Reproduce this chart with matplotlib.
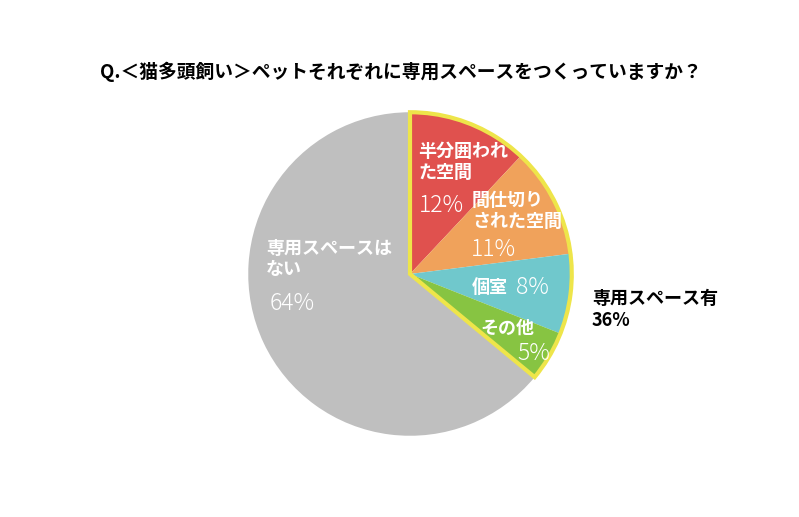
import matplotlib.pyplot as plt
from matplotlib.patches import Wedge

plt.rcParams['font.family'] = ['Noto Sans CJK JP', 'DejaVu Sans']

# data
title = 'Q.＜猫多頭飼い＞ペットそれぞれに専用スペースをつくっていますか？'
labels = ['半分囲われ\nた空間', '間仕切り\nされた空間', '個室', 'その他', '専用スペースは\nない']
shares = [12, 11, 8, 5, 64]
colors = ['#e0514e', '#f0a25b', '#70c8cc', '#87c442', '#bfbfbf']
with_space_label = '専用スペース有'
with_space_share = 36

W, H = 799, 517
fig = plt.figure(figsize=(W / 100, H / 100), dpi=100)

# pie centre (410, 274) px, radius 165 px
cx, cy, r = 410, 274, 165
ax = fig.add_axes([(cx - r) / W, (H - cy - r) / H, 2 * r / W, 2 * r / H])
ax.pie(shares, colors=colors, startangle=90, counterclock=False, radius=1,
       wedgeprops=dict(linewidth=0))
ax.set_xlim(-1.02, 1.02)
ax.set_ylim(-1.02, 1.02)
ax.set_aspect('equal')
ax.axis('off')

# yellow outline around the "has space" slices
span = sum(shares[:4]) / sum(shares) * 360
ax.add_patch(Wedge((0, 0), 1.0, 90 - span, 90, facecolor='none',
                   edgecolor='#eee54a', linewidth=3, joinstyle='miter', zorder=5))


def px(x, y, s, **kw):
    fig.text(x / W, 1 - y / H, s, **kw)


lab = dict(color='white', fontsize=13, fontweight='bold', va='center', ha='left', linespacing=1.15)
pct = dict(color='white', fontsize=16.5, fontweight='light', va='center', ha='left')

px(418, 162, labels[0], **lab)
px(419, 205, f'{shares[0]}%', **pct)
px(472, 211, labels[1], **lab)
px(471, 250, f'{shares[1]}%', **pct)
px(472, 287, labels[2], **lab)
px(516, 288, f'{shares[2]}%', **pct)
px(480, 328, labels[3], **lab)
px(517, 354, f'{shares[3]}%', **pct)
px(266, 259, labels[4], **lab)
px(270, 303, f'{shares[4]}%', **pct)

px(592, 309, f'{with_space_label}\n{with_space_share}%', color='black', fontsize=13,
   fontweight='bold', va='center', ha='left', linespacing=1.2)

px(100, 72, title, color='black', fontsize=13.5, fontweight='bold', va='center', ha='left')

fig.savefig('out.png', dpi=100, facecolor='white')
